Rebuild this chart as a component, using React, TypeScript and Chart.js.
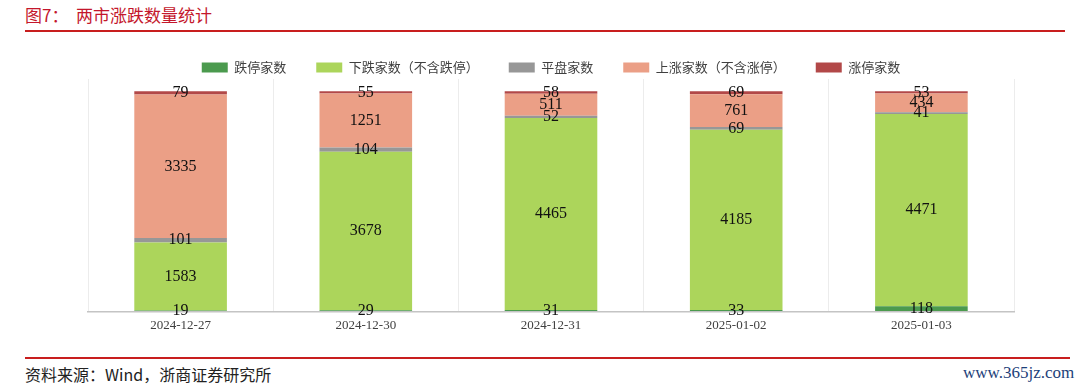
import React, { useEffect, useRef } from "react";
import { Chart, registerables } from "chart.js";

Chart.register(...registerables);

// ---- data ----
const categories = ["2024-12-27", "2024-12-30", "2024-12-31", "2025-01-02", "2025-01-03"];
const limitDownCounts = [19, 29, 31, 33, 118];
const fallExLimitCounts = [1583, 3678, 4465, 4185, 4471];
const flatCounts = [101, 104, 52, 69, 41];
const riseExLimitCounts = [3335, 1251, 511, 761, 434];
const limitUpCounts = [79, 55, 58, 69, 53];
const seriesNames = ["跌停家数", "下跌家数（不含跌停）", "平盘家数", "上涨家数（不含涨停）", "涨停家数"];
const seriesColors = ["#4b9a4e", "#acd55b", "#979797", "#eb9f86", "#b24848"];
const yMax = 5400;
const yStep = 1000;

const valueLabels = {
  id: "valueLabels",
  afterDatasetsDraw(chart: any) {
    const ctx = chart.ctx;
    ctx.save();
    ctx.font = '16px "Liberation Serif", "Times New Roman", serif';
    ctx.fillStyle = "#111111";
    ctx.textAlign = "center";
    ctx.textBaseline = "middle";
    chart.data.datasets.forEach((ds: any, di: number) => {
      const meta = chart.getDatasetMeta(di);
      meta.data.forEach((el: any, i: number) => {
        const p = el.getProps(["x", "y", "base"], true);
        ctx.fillText(String(ds.data[i]), p.x, (p.y + p.base) / 2);
      });
    });
    ctx.restore();
  },
};

export default function App() {
  const canvasRef = useRef<HTMLCanvasElement | null>(null);

  useEffect(() => {
    if (!canvasRef.current) return;
    const seriesData = [limitDownCounts, fallExLimitCounts, flatCounts, riseExLimitCounts, limitUpCounts];
    const chart = new Chart(canvasRef.current, {
      type: "bar",
      data: {
        labels: categories,
        datasets: seriesData.map((d, i) => ({
          label: seriesNames[i],
          data: d,
          backgroundColor: seriesColors[i],
          borderWidth: 0,
          categoryPercentage: 1,
          barPercentage: 0.5,
        })),
      },
      options: {
        responsive: false,
        animation: false,
        layout: { padding: { left: 88, right: 66, top: 0, bottom: 4 } },
        plugins: {
          tooltip: { enabled: false },
          legend: {
            display: true,
            position: "top",
            maxHeight: 48,
            labels: {
              boxWidth: 26,
              boxHeight: 10,
              padding: 30,
              color: "#404040",
              font: { family: '"Noto Sans CJK SC", sans-serif', size: 13 },
            },
          },
        },
        scales: {
          x: {
            stacked: true,
            grid: { color: "#ececec", lineWidth: 1, drawTicks: false, offset: true },
            border: { display: true, color: "#c4c4c4", width: 1.5 },
            ticks: {
              color: "#404040",
              padding: 6,
              font: { family: '"Liberation Serif", serif', size: 13 },
            },
          },
          y: {
            stacked: true,
            min: 0,
            max: yMax,
            ticks: { display: false, stepSize: yStep },
            border: { display: false },
            grid: {
              drawTicks: false,
              lineWidth: 1,
              color: (ctx: any) =>
                ctx.tick && ctx.tick.value > 0 && ctx.tick.value % yStep === 0 ? "#ececec" : "rgba(0,0,0,0)",
            },
          },
        },
      },
      plugins: [valueLabels],
    } as any);
    return () => chart.destroy();
  }, []);

  return (
    <div
      style={{
        position: "fixed",
        left: 0,
        top: 0,
        width: 1080,
        height: 386,
        background: "#ffffff",
        overflow: "hidden",
      }}
    >
      <div
        style={{
          position: "absolute",
          left: 25,
          top: 4,
          fontSize: 17,
          lineHeight: "22px",
          color: "#c4172c",
          fontFamily: '"Noto Sans CJK SC", sans-serif',
          whiteSpace: "pre",
        }}
      >
        {"图7：  两市涨跌数量统计"}
      </div>
      <div style={{ position: "absolute", left: 25, top: 30, width: 1040, height: 1.5, background: "#c81e1e" }} />
      <canvas
        ref={canvasRef}
        width={1080}
        height={312}
        style={{ position: "absolute", left: 0, top: 31, width: 1080, height: 312 }}
      />
      <div style={{ position: "absolute", left: 25, top: 357, width: 1045, height: 1.5, background: "#c81e1e" }} />
      <div
        style={{
          position: "absolute",
          left: 25,
          top: 364,
          fontSize: 16,
          lineHeight: "20px",
          color: "#222222",
          fontFamily: '"Noto Sans CJK SC", sans-serif',
          whiteSpace: "pre",
        }}
      >
        资料来源：Wind，浙商证券研究所
      </div>
      <div
        style={{
          position: "absolute",
          left: 963,
          top: 363,
          fontSize: 17,
          lineHeight: "20px",
          color: "#1d3f7a",
          fontFamily: '"Liberation Serif", serif',
          whiteSpace: "pre",
        }}
      >
        www.365jz.com
      </div>
    </div>
  );
}
